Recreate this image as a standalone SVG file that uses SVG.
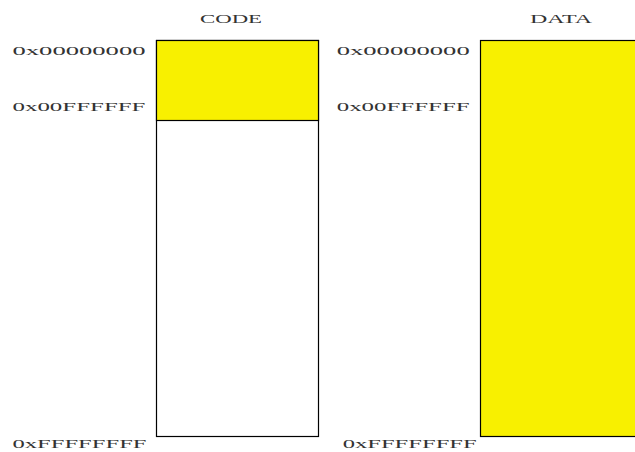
<svg xmlns="http://www.w3.org/2000/svg" width="635" height="452" viewBox="0 0 635 452">
<style>
.lbl{font-family:"Liberation Serif","DejaVu Serif",serif;font-size:13.5px;fill:#333}
.box{stroke:#000;stroke-width:1.2}
</style>
<rect width="635" height="452" fill="#fff"/>
<g id="code">
<text class="lbl" x="200" y="23" textLength="62" lengthAdjust="spacingAndGlyphs">CODE</text>
<rect class="box" x="156.5" y="40.5" width="162" height="396" fill="#fff"/>
<rect class="box" x="156.5" y="40.5" width="162" height="80" fill="#f8f000"/>
<text class="lbl" x="12.5" y="55" textLength="133" lengthAdjust="spacingAndGlyphs">0x00000000</text>
<text class="lbl" x="12.5" y="111" textLength="133" lengthAdjust="spacingAndGlyphs">0x00FFFFFF</text>
<text class="lbl" x="12.5" y="448" textLength="134" lengthAdjust="spacingAndGlyphs">0xFFFFFFFF</text>
</g>
<g id="data">
<text class="lbl" x="530" y="23" textLength="62" lengthAdjust="spacingAndGlyphs">DATA</text>
<rect class="box" x="480.5" y="40.5" width="160" height="396" fill="#f8f000"/>
<text class="lbl" x="336.7" y="55" textLength="133" lengthAdjust="spacingAndGlyphs">0x00000000</text>
<text class="lbl" x="336.7" y="111" textLength="133" lengthAdjust="spacingAndGlyphs">0x00FFFFFF</text>
<text class="lbl" x="342.7" y="448" textLength="134" lengthAdjust="spacingAndGlyphs">0xFFFFFFFF</text>
</g>
<g id="connectors"></g>
</svg>
